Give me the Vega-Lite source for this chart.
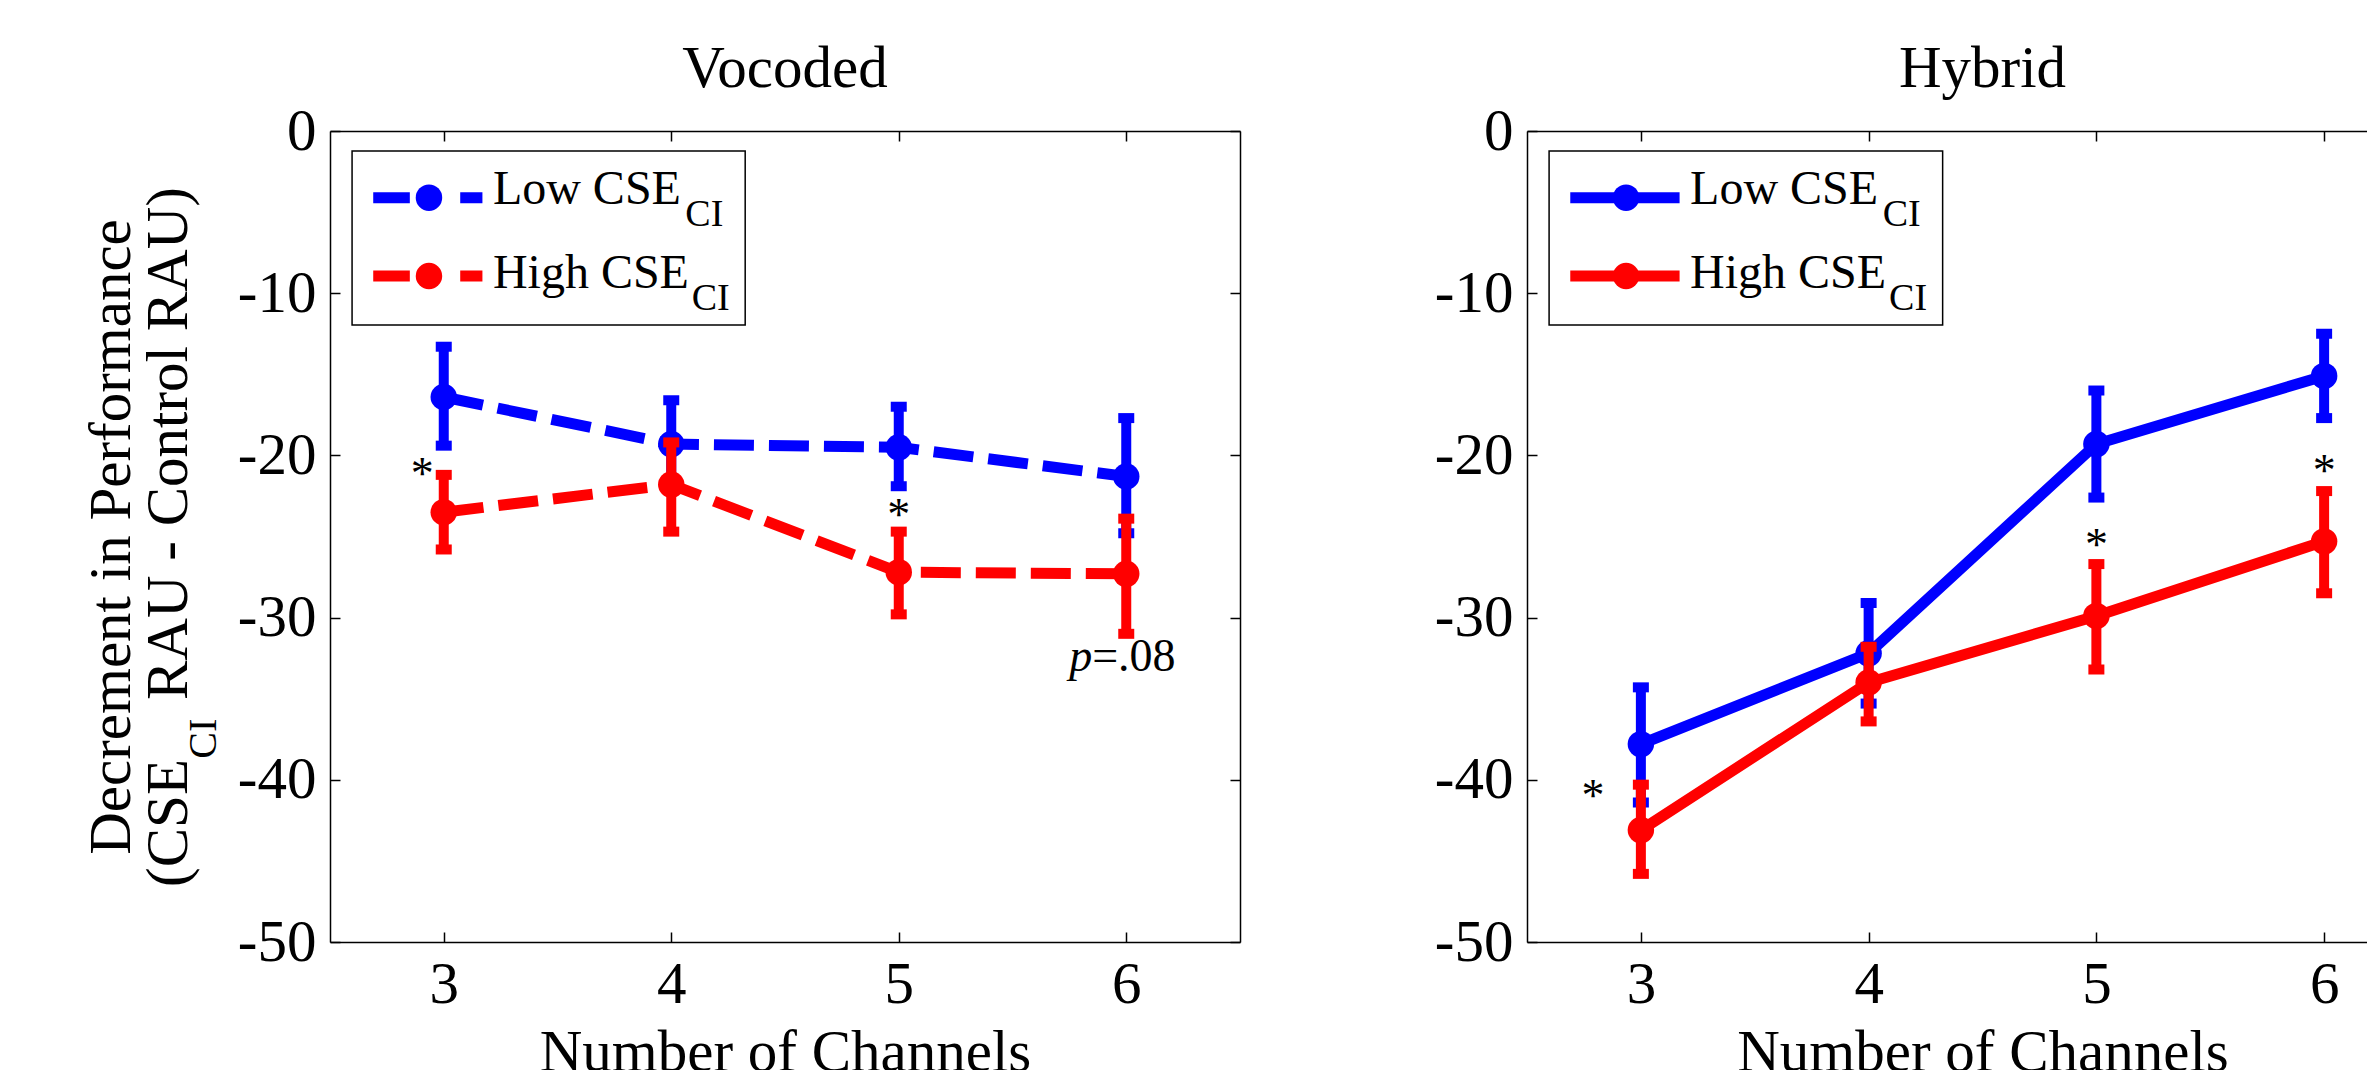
{
  "$schema": "https://vega.github.io/schema/vega-lite/v6.json",
  "background": "white",
  "padding": {"left": 82, "top": 40, "right": 0, "bottom": -12},
  "spacing": 287,
  "bounds": "flush",
  "config": {
    "font": "Liberation Serif",
    "view": {"stroke": null},
    "axis": {
      "grid": false,
      "domainColor": "black", "domainWidth": 1.5,
      "tickColor": "black", "tickWidth": 1.5, "tickSize": -10,
      "labelColor": "black", "titleColor": "black",
      "labelFont": "Liberation Serif", "titleFont": "Liberation Serif",
      "labelFontSize": 59, "titleFontSize": 59, "titleFontWeight": "normal",
      "labelOverlap": false, "labelFlush": false
    },
    "title": {"font": "Liberation Serif", "fontSize": 59, "fontWeight": "normal", "color": "black"}
  },
  "datasets": {
    "vocoded": [
      {"group": "Low", "ch": 3, "mean": -16.4, "lo": -19.4, "hi": -13.3},
      {"group": "Low", "ch": 4, "mean": -19.3, "lo": -22.0, "hi": -16.6},
      {"group": "Low", "ch": 5, "mean": -19.5, "lo": -21.9, "hi": -17.0},
      {"group": "Low", "ch": 6, "mean": -21.3, "lo": -24.8, "hi": -17.7},
      {"group": "High", "ch": 3, "mean": -23.5, "lo": -25.8, "hi": -21.2},
      {"group": "High", "ch": 4, "mean": -21.8, "lo": -24.7, "hi": -19.2},
      {"group": "High", "ch": 5, "mean": -27.2, "lo": -29.8, "hi": -24.7},
      {"group": "High", "ch": 6, "mean": -27.3, "lo": -31.0, "hi": -23.9}
    ],
    "hybrid": [
      {"group": "Low", "ch": 3, "mean": -37.8, "lo": -41.4, "hi": -34.3},
      {"group": "Low", "ch": 4, "mean": -32.2, "lo": -35.3, "hi": -29.1},
      {"group": "Low", "ch": 5, "mean": -19.3, "lo": -22.6, "hi": -16.0},
      {"group": "Low", "ch": 6, "mean": -15.1, "lo": -17.7, "hi": -12.5},
      {"group": "High", "ch": 3, "mean": -43.1, "lo": -45.8, "hi": -40.3},
      {"group": "High", "ch": 4, "mean": -34.0, "lo": -36.4, "hi": -31.8},
      {"group": "High", "ch": 5, "mean": -29.9, "lo": -33.2, "hi": -26.7},
      {"group": "High", "ch": 6, "mean": -25.3, "lo": -28.5, "hi": -22.2}
    ],
    "notes": [
      {"panel": "Vocoded", "ch": 2.905, "val": -20.65, "label": "*"},
      {"panel": "Vocoded", "ch": 5.0, "val": -23.2, "label": "*"},
      {"panel": "Hybrid", "ch": 2.79, "val": -40.5, "label": "*"},
      {"panel": "Hybrid", "ch": 5.0, "val": -25.0, "label": "*"},
      {"panel": "Hybrid", "ch": 6.0, "val": -20.45, "label": "*"}
    ]
  },
  "hconcat": [
    {
      "width": 910, "height": 811,
      "title": {"text": "Vocoded", "baseline": "alphabetic", "offset": -44},
      "resolve": {"axis": {"x": "independent", "y": "independent"}},
      "layer": [
        {"data": {"name": "vocoded"}, "transform": [{"filter": "datum.group === 'Low'"}],
         "mark": {"type": "rule", "color": "#0000ff", "strokeWidth": 10},
         "encoding": {
           "x": {"field": "ch", "type": "quantitative", "scale": {"domain": [2.5, 6.5], "nice": false, "zero": false},
                 "axis": {"orient": "bottom", "values": [3, 4, 5, 6], "title": "Number of Channels", "labelPadding": 23, "titlePadding": 9}},
           "y": {"field": "lo", "type": "quantitative", "scale": {"domain": [-50, 0], "nice": false, "zero": false},
                 "axis": {"orient": "left", "values": [0, -10, -20, -30, -40, -50], "labelPadding": 24,
                          "labelExpr": "datum.value === 0 ? '0' : '-' + abs(datum.value)",
                          "title": ["Decrement in Performance", "(CSE\u00a0\u00a0\u00a0 RAU - Control RAU)"],
                          "titlePadding": 39, "titleLineHeight": 57}},
           "y2": {"field": "hi"}}},
        {"data": {"name": "vocoded"}, "transform": [{"filter": "datum.group === 'Low'"}],
         "mark": {"type": "tick", "orient": "horizontal", "color": "#0000ff", "size": 16, "thickness": 10, "opacity": 1},
         "encoding": {"x": {"field": "ch", "type": "quantitative", "axis": null}, "y": {"field": "lo", "type": "quantitative", "axis": null}}},
        {"data": {"name": "vocoded"}, "transform": [{"filter": "datum.group === 'Low'"}],
         "mark": {"type": "tick", "orient": "horizontal", "color": "#0000ff", "size": 16, "thickness": 10, "opacity": 1},
         "encoding": {"x": {"field": "ch", "type": "quantitative", "axis": null}, "y": {"field": "hi", "type": "quantitative", "axis": null}}},
        {"data": {"name": "vocoded"}, "transform": [{"filter": "datum.group === 'Low'"}],
         "mark": {"type": "line", "color": "#0000ff", "strokeWidth": 11, "strokeDash": [40, 15]},
         "encoding": {"x": {"field": "ch", "type": "quantitative", "axis": null}, "y": {"field": "mean", "type": "quantitative", "axis": null}}},
        {"data": {"name": "vocoded"}, "transform": [{"filter": "datum.group === 'Low'"}],
         "mark": {"type": "circle", "color": "#0000ff", "size": 700, "opacity": 1},
         "encoding": {"x": {"field": "ch", "type": "quantitative", "axis": null}, "y": {"field": "mean", "type": "quantitative", "axis": null}}},
        {"data": {"name": "vocoded"}, "transform": [{"filter": "datum.group === 'High'"}],
         "mark": {"type": "rule", "color": "#ff0000", "strokeWidth": 10},
         "encoding": {"x": {"field": "ch", "type": "quantitative", "axis": null}, "y": {"field": "lo", "type": "quantitative", "axis": null}, "y2": {"field": "hi"}}},
        {"data": {"name": "vocoded"}, "transform": [{"filter": "datum.group === 'High'"}],
         "mark": {"type": "tick", "orient": "horizontal", "color": "#ff0000", "size": 16, "thickness": 10, "opacity": 1},
         "encoding": {"x": {"field": "ch", "type": "quantitative", "axis": null}, "y": {"field": "lo", "type": "quantitative", "axis": null}}},
        {"data": {"name": "vocoded"}, "transform": [{"filter": "datum.group === 'High'"}],
         "mark": {"type": "tick", "orient": "horizontal", "color": "#ff0000", "size": 16, "thickness": 10, "opacity": 1},
         "encoding": {"x": {"field": "ch", "type": "quantitative", "axis": null}, "y": {"field": "hi", "type": "quantitative", "axis": null}}},
        {"data": {"name": "vocoded"}, "transform": [{"filter": "datum.group === 'High'"}],
         "mark": {"type": "line", "color": "#ff0000", "strokeWidth": 11, "strokeDash": [40, 15]},
         "encoding": {"x": {"field": "ch", "type": "quantitative", "axis": null}, "y": {"field": "mean", "type": "quantitative", "axis": null}}},
        {"data": {"name": "vocoded"}, "transform": [{"filter": "datum.group === 'High'"}],
         "mark": {"type": "circle", "color": "#ff0000", "size": 700, "opacity": 1},
         "encoding": {"x": {"field": "ch", "type": "quantitative", "axis": null}, "y": {"field": "mean", "type": "quantitative", "axis": null}}},
        {"data": {"name": "notes"}, "transform": [{"filter": "datum.panel === 'Vocoded'"}],
         "mark": {"type": "text", "fontSize": 46, "baseline": "middle", "align": "center", "dy": 9, "color": "black"},
         "encoding": {"x": {"field": "ch", "type": "quantitative", "axis": null}, "y": {"field": "val", "type": "quantitative", "axis": null}, "text": {"field": "label"}}},
        {"data": {"values": [{}]},
         "mark": {"type": "text", "text": "p", "fontStyle": "italic", "fontSize": 46, "align": "right", "baseline": "alphabetic", "color": "black"},
         "encoding": {"x": {"datum": 5.85, "axis": null}, "y": {"datum": -33.3, "axis": null}}},
        {"data": {"values": [{}]},
         "mark": {"type": "text", "text": "=.08", "fontSize": 46, "align": "left", "baseline": "alphabetic", "color": "black"},
         "encoding": {"x": {"datum": 5.85, "axis": null}, "y": {"datum": -33.3, "axis": null}}},
        {"data": {"values": [{}]},
         "mark": {"type": "rect", "fill": "white", "stroke": "black", "strokeWidth": 1.5},
         "encoding": {
           "x": {"datum": 2.597, "axis": {"orient": "top", "values": [3, 4, 5, 6], "labels": false, "title": null}},
           "x2": {"datum": 4.325},
           "y": {"datum": -1.233, "axis": {"orient": "right", "values": [0, -10, -20, -30, -40, -50], "labels": false, "title": null}},
           "y2": {"datum": -11.96}}},
        {"data": {"values": [{}]},
         "mark": {"type": "rule", "color": "#0000ff", "strokeWidth": 11, "strokeDash": [36.6, 50.4]},
         "encoding": {"x": {"datum": 2.69, "axis": null}, "x2": {"datum": 3.17}, "y": {"datum": -4.11, "axis": null}}},
        {"data": {"values": [{}]},
         "mark": {"type": "rule", "color": "#ff0000", "strokeWidth": 11, "strokeDash": [36.6, 50.4]},
         "encoding": {"x": {"datum": 2.69, "axis": null}, "x2": {"datum": 3.17}, "y": {"datum": -8.94, "axis": null}}},
        {"data": {"values": [{}]},
         "mark": {"type": "circle", "color": "#0000ff", "size": 700, "opacity": 1},
         "encoding": {"x": {"datum": 2.935, "axis": null}, "y": {"datum": -4.11, "axis": null}}},
        {"data": {"values": [{}]},
         "mark": {"type": "circle", "color": "#ff0000", "size": 700, "opacity": 1},
         "encoding": {"x": {"datum": 2.935, "axis": null}, "y": {"datum": -8.94, "axis": null}}},
        {"data": {"values": [{}]},
         "mark": {"type": "text", "text": "Low CSE", "fontSize": 48, "align": "left", "baseline": "alphabetic", "color": "black"},
         "encoding": {"x": {"datum": 3.216, "axis": null}, "y": {"datum": -4.52, "axis": null}}},
        {"data": {"values": [{}]},
         "mark": {"type": "text", "text": "CI", "fontSize": 38, "align": "left", "baseline": "alphabetic", "color": "black"},
         "encoding": {"x": {"datum": 4.062, "axis": null}, "y": {"datum": -5.86, "axis": null}}},
        {"data": {"values": [{}]},
         "mark": {"type": "text", "text": "High CSE", "fontSize": 48, "align": "left", "baseline": "alphabetic", "color": "black"},
         "encoding": {"x": {"datum": 3.216, "axis": null}, "y": {"datum": -9.66, "axis": null}}},
        {"data": {"values": [{}]},
         "mark": {"type": "text", "text": "CI", "fontSize": 38, "align": "left", "baseline": "alphabetic", "color": "black"},
         "encoding": {"x": {"datum": 4.09, "axis": null}, "y": {"datum": -11.05, "axis": null}}},
        {"data": {"values": [{}]},
         "mark": {"type": "text", "text": "CI", "fontSize": 40, "angle": 270, "align": "left", "baseline": "alphabetic", "color": "black"},
         "encoding": {"x": {"datum": 1.998, "axis": null}, "y": {"datum": -38.7, "axis": null}}}
      ]
    },
    {
      "width": 911, "height": 811,
      "title": {"text": "Hybrid", "baseline": "alphabetic", "offset": -44},
      "resolve": {"axis": {"x": "independent", "y": "independent"}},
      "layer": [
        {"data": {"name": "hybrid"}, "transform": [{"filter": "datum.group === 'Low'"}],
         "mark": {"type": "rule", "color": "#0000ff", "strokeWidth": 10},
         "encoding": {
           "x": {"field": "ch", "type": "quantitative", "scale": {"domain": [2.5, 6.5], "nice": false, "zero": false},
                 "axis": {"orient": "bottom", "values": [3, 4, 5, 6], "title": "Number of Channels", "labelPadding": 23, "titlePadding": 9}},
           "y": {"field": "lo", "type": "quantitative", "scale": {"domain": [-50, 0], "nice": false, "zero": false},
                 "axis": {"orient": "left", "values": [0, -10, -20, -30, -40, -50], "labelPadding": 24,
                          "labelExpr": "datum.value === 0 ? '0' : '-' + abs(datum.value)", "title": null}},
           "y2": {"field": "hi"}}},
        {"data": {"name": "hybrid"}, "transform": [{"filter": "datum.group === 'Low'"}],
         "mark": {"type": "tick", "orient": "horizontal", "color": "#0000ff", "size": 16, "thickness": 10, "opacity": 1},
         "encoding": {"x": {"field": "ch", "type": "quantitative", "axis": null}, "y": {"field": "lo", "type": "quantitative", "axis": null}}},
        {"data": {"name": "hybrid"}, "transform": [{"filter": "datum.group === 'Low'"}],
         "mark": {"type": "tick", "orient": "horizontal", "color": "#0000ff", "size": 16, "thickness": 10, "opacity": 1},
         "encoding": {"x": {"field": "ch", "type": "quantitative", "axis": null}, "y": {"field": "hi", "type": "quantitative", "axis": null}}},
        {"data": {"name": "hybrid"}, "transform": [{"filter": "datum.group === 'Low'"}],
         "mark": {"type": "line", "color": "#0000ff", "strokeWidth": 11},
         "encoding": {"x": {"field": "ch", "type": "quantitative", "axis": null}, "y": {"field": "mean", "type": "quantitative", "axis": null}}},
        {"data": {"name": "hybrid"}, "transform": [{"filter": "datum.group === 'Low'"}],
         "mark": {"type": "circle", "color": "#0000ff", "size": 700, "opacity": 1},
         "encoding": {"x": {"field": "ch", "type": "quantitative", "axis": null}, "y": {"field": "mean", "type": "quantitative", "axis": null}}},
        {"data": {"name": "hybrid"}, "transform": [{"filter": "datum.group === 'High'"}],
         "mark": {"type": "rule", "color": "#ff0000", "strokeWidth": 10},
         "encoding": {"x": {"field": "ch", "type": "quantitative", "axis": null}, "y": {"field": "lo", "type": "quantitative", "axis": null}, "y2": {"field": "hi"}}},
        {"data": {"name": "hybrid"}, "transform": [{"filter": "datum.group === 'High'"}],
         "mark": {"type": "tick", "orient": "horizontal", "color": "#ff0000", "size": 16, "thickness": 10, "opacity": 1},
         "encoding": {"x": {"field": "ch", "type": "quantitative", "axis": null}, "y": {"field": "lo", "type": "quantitative", "axis": null}}},
        {"data": {"name": "hybrid"}, "transform": [{"filter": "datum.group === 'High'"}],
         "mark": {"type": "tick", "orient": "horizontal", "color": "#ff0000", "size": 16, "thickness": 10, "opacity": 1},
         "encoding": {"x": {"field": "ch", "type": "quantitative", "axis": null}, "y": {"field": "hi", "type": "quantitative", "axis": null}}},
        {"data": {"name": "hybrid"}, "transform": [{"filter": "datum.group === 'High'"}],
         "mark": {"type": "line", "color": "#ff0000", "strokeWidth": 11},
         "encoding": {"x": {"field": "ch", "type": "quantitative", "axis": null}, "y": {"field": "mean", "type": "quantitative", "axis": null}}},
        {"data": {"name": "hybrid"}, "transform": [{"filter": "datum.group === 'High'"}],
         "mark": {"type": "circle", "color": "#ff0000", "size": 700, "opacity": 1},
         "encoding": {"x": {"field": "ch", "type": "quantitative", "axis": null}, "y": {"field": "mean", "type": "quantitative", "axis": null}}},
        {"data": {"name": "notes"}, "transform": [{"filter": "datum.panel === 'Hybrid'"}],
         "mark": {"type": "text", "fontSize": 46, "baseline": "middle", "align": "center", "dy": 9, "color": "black"},
         "encoding": {"x": {"field": "ch", "type": "quantitative", "axis": null}, "y": {"field": "val", "type": "quantitative", "axis": null}, "text": {"field": "label"}}},
        {"data": {"values": [{}]},
         "mark": {"type": "rect", "fill": "white", "stroke": "black", "strokeWidth": 1.5},
         "encoding": {
           "x": {"datum": 2.597, "axis": {"orient": "top", "values": [3, 4, 5, 6], "labels": false, "title": null}},
           "x2": {"datum": 4.325},
           "y": {"datum": -1.233, "axis": {"orient": "right", "values": [0, -10, -20, -30, -40, -50], "labels": false, "title": null}},
           "y2": {"datum": -11.96}}},
        {"data": {"values": [{}]},
         "mark": {"type": "rule", "color": "#0000ff", "strokeWidth": 11},
         "encoding": {"x": {"datum": 2.69, "axis": null}, "x2": {"datum": 3.17}, "y": {"datum": -4.11, "axis": null}}},
        {"data": {"values": [{}]},
         "mark": {"type": "rule", "color": "#ff0000", "strokeWidth": 11},
         "encoding": {"x": {"datum": 2.69, "axis": null}, "x2": {"datum": 3.17}, "y": {"datum": -8.94, "axis": null}}},
        {"data": {"values": [{}]},
         "mark": {"type": "circle", "color": "#0000ff", "size": 700, "opacity": 1},
         "encoding": {"x": {"datum": 2.935, "axis": null}, "y": {"datum": -4.11, "axis": null}}},
        {"data": {"values": [{}]},
         "mark": {"type": "circle", "color": "#ff0000", "size": 700, "opacity": 1},
         "encoding": {"x": {"datum": 2.935, "axis": null}, "y": {"datum": -8.94, "axis": null}}},
        {"data": {"values": [{}]},
         "mark": {"type": "text", "text": "Low CSE", "fontSize": 48, "align": "left", "baseline": "alphabetic", "color": "black"},
         "encoding": {"x": {"datum": 3.216, "axis": null}, "y": {"datum": -4.52, "axis": null}}},
        {"data": {"values": [{}]},
         "mark": {"type": "text", "text": "CI", "fontSize": 38, "align": "left", "baseline": "alphabetic", "color": "black"},
         "encoding": {"x": {"datum": 4.062, "axis": null}, "y": {"datum": -5.86, "axis": null}}},
        {"data": {"values": [{}]},
         "mark": {"type": "text", "text": "High CSE", "fontSize": 48, "align": "left", "baseline": "alphabetic", "color": "black"},
         "encoding": {"x": {"datum": 3.216, "axis": null}, "y": {"datum": -9.66, "axis": null}}},
        {"data": {"values": [{}]},
         "mark": {"type": "text", "text": "CI", "fontSize": 38, "align": "left", "baseline": "alphabetic", "color": "black"},
         "encoding": {"x": {"datum": 4.09, "axis": null}, "y": {"datum": -11.05, "axis": null}}}
      ]
    }
  ]
}
